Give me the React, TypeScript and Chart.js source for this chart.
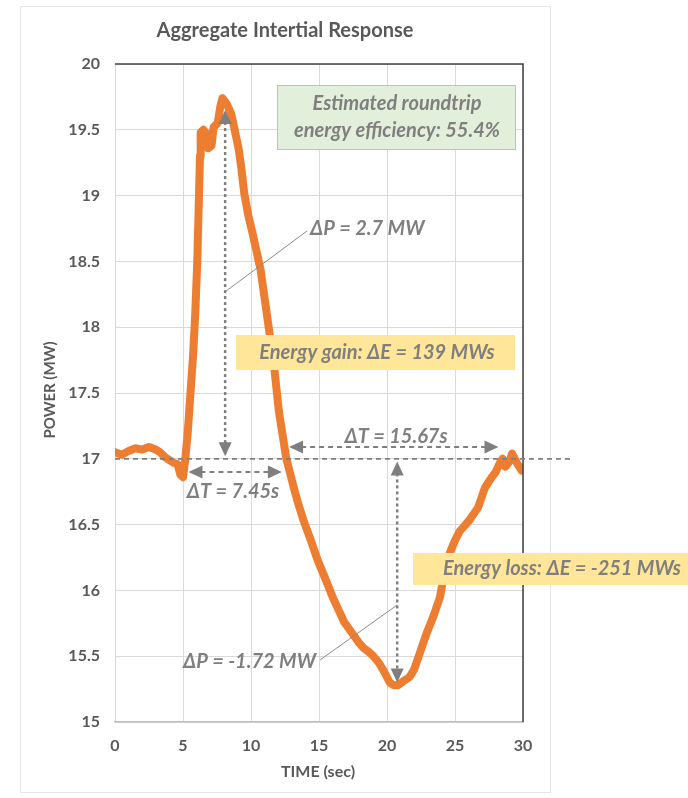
import React, { useEffect, useRef } from "react";
import { Chart, registerables } from "chart.js";

Chart.register(...registerables);

// ---- data ----
const timeSec: number[] = [
  0.0, 0.5, 1.0, 1.5, 2.0, 2.5, 3.0, 3.3, 3.7, 4.0, 4.3, 4.6, 4.8, 5.0, 5.15, 5.35, 5.55, 5.75, 5.9, 6.05,
  6.15, 6.25, 6.3, 6.5, 6.75, 6.85, 7.1, 7.25, 7.55, 7.75, 7.9, 8.2, 8.55, 8.8, 9.1, 9.3, 9.5, 9.8, 10.1, 10.4,
  10.7, 11.0, 11.3, 11.7, 12.05, 12.6, 13.2, 13.5, 13.9, 14.4, 14.9, 15.5, 16.0, 16.4, 16.85, 17.4, 17.96, 18.3, 18.7, 19.0,
  19.4, 19.8, 20.2, 20.5, 20.8, 21.2, 21.65, 22.0, 22.4, 22.9, 23.4, 23.9, 24.2, 24.6, 25.0, 25.35, 25.7, 26.1, 26.7, 27.2,
  27.7, 28.0, 28.3, 28.5, 28.7, 29.0, 29.2, 29.4, 29.6, 29.9,
];
const powerMW: number[] = [
  17.05, 17.03, 17.06, 17.08, 17.07, 17.09, 17.07, 17.05, 17.01, 16.99, 16.97, 16.96, 16.88, 16.86, 16.98, 17.2, 17.5, 17.8, 18.1, 18.5,
  18.9, 19.3, 19.48, 19.5, 19.47, 19.36, 19.38, 19.52, 19.55, 19.68, 19.74, 19.7, 19.62, 19.5, 19.35, 19.2, 19.02, 18.85, 18.72, 18.58,
  18.44, 18.22, 18.0, 17.7, 17.36, 17.0, 16.76, 16.65, 16.52, 16.38, 16.23, 16.08, 15.95, 15.86, 15.76, 15.68, 15.6, 15.56, 15.53, 15.5,
  15.45, 15.38, 15.3, 15.28, 15.28, 15.31, 15.34, 15.4, 15.52, 15.67, 15.8, 15.95, 16.13, 16.28, 16.38, 16.45, 16.49, 16.54, 16.63, 16.78,
  16.86, 16.9, 16.97, 17.0, 16.94, 16.98, 17.04, 17.0, 16.96, 16.91,
];
const xTicks: number[] = [0, 5, 10, 15, 20, 25, 30];
const yTicks: number[] = [15, 15.5, 16, 16.5, 17, 17.5, 18, 18.5, 19, 19.5, 20];

const chartTitle = "Aggregate Intertial Response";
const xTitle = "TIME (sec)";
const yTitle = "POWER (MW)";
const efficiencyLines = ["Estimated roundtrip", "energy efficiency: 55.4%"];
const gainLabel = "Energy gain: ΔE = 139 MWs";
const lossLabel = "Energy loss: ΔE = -251 MWs";
const dpUpLabel = "ΔP = 2.7 MW";
const dpDownLabel = "ΔP = -1.72 MW";
const dtShortLabel = "ΔT = 7.45s";
const dtLongLabel = "ΔT = 15.67s";

// annotation values (data units)
const baselineP = 17;
const peakT = 8.1;
const peakP = 19.65;
const troughT = 20.75;
const troughP = 15.3;
const dtShort = [5.4, 12.27];
const dtShortP = 16.9;
const dtLong = [12.8, 28.2];
const dtLongP = 17.09;

const GRAY = "#7f7f7f";
const TEXT = "#595959";
const FONT = "Lato, 'Open Sans', sans-serif";

function arrowHead(ctx: CanvasRenderingContext2D, x: number, y: number, dir: "up" | "down" | "left" | "right") {
  const L = 14, W = 6.5;
  ctx.beginPath();
  if (dir === "up") { ctx.moveTo(x, y); ctx.lineTo(x - W, y + L); ctx.lineTo(x + W, y + L); }
  if (dir === "down") { ctx.moveTo(x, y); ctx.lineTo(x - W, y - L); ctx.lineTo(x + W, y - L); }
  if (dir === "left") { ctx.moveTo(x, y); ctx.lineTo(x + L, y - W); ctx.lineTo(x + L, y + W); }
  if (dir === "right") { ctx.moveTo(x, y); ctx.lineTo(x - L, y - W); ctx.lineTo(x - L, y + W); }
  ctx.closePath();
  ctx.fillStyle = GRAY;
  ctx.fill();
}

const overlayPlugin = {
  id: "overlay",
  beforeDraw(chart: any) {
    const ctx = chart.ctx as CanvasRenderingContext2D;
    ctx.save();
    ctx.fillStyle = "#ffffff";
    ctx.fillRect(0, 0, chart.width, chart.height);
    ctx.strokeStyle = "#e6e6e6";
    ctx.lineWidth = 1;
    ctx.strokeRect(20.5, 6.5, 530, 786);
    ctx.restore();
  },
  afterDatasetsDraw(chart: any) {
    const ctx = chart.ctx as CanvasRenderingContext2D;
    const xs = chart.scales.x;
    const ys = chart.scales.y;
    const ca = chart.chartArea;
    const X = (v: number) => xs.getPixelForValue(v);
    const Y = (v: number) => ys.getPixelForValue(v);
    ctx.save();

    // plot frame top/right
    ctx.strokeStyle = "#404040";
    ctx.lineWidth = 1.5;
    ctx.beginPath();
    ctx.moveTo(ca.left, ca.top);
    ctx.lineTo(ca.right, ca.top);
    ctx.lineTo(ca.right, ca.bottom);
    ctx.stroke();

    // titles
    ctx.fillStyle = TEXT;
    ctx.textAlign = "center";
    ctx.textBaseline = "middle";
    ctx.font = `bold 20px ${FONT}`;
    ctx.fillText(chartTitle, 285, 31);
    ctx.font = `bold 16px ${FONT}`;
    ctx.fillText(xTitle, 318, 772);
    ctx.save();
    ctx.translate(50, 390);
    ctx.rotate(-Math.PI / 2);
    ctx.font = `bold 15px ${FONT}`;
    ctx.fillText(yTitle, 0, 0);
    ctx.restore();

    // baseline dashed line
    ctx.strokeStyle = GRAY;
    ctx.lineWidth = 1.8;
    ctx.setLineDash([5, 4]);
    ctx.beginPath();
    ctx.moveTo(ca.left, Y(baselineP));
    ctx.lineTo(573, Y(baselineP));
    ctx.stroke();

    // horizontal double arrows
    const hArrow = (t0: number, t1: number, p: number) => {
      const y = Y(p);
      ctx.setLineDash([5, 4]);
      ctx.lineWidth = 2;
      ctx.strokeStyle = GRAY;
      ctx.beginPath();
      ctx.moveTo(X(t0) + 12, y);
      ctx.lineTo(X(t1) - 12, y);
      ctx.stroke();
      ctx.setLineDash([]);
      arrowHead(ctx, X(t0), y, "left");
      arrowHead(ctx, X(t1), y, "right");
    };
    hArrow(dtShort[0], dtShort[1], dtShortP);
    hArrow(dtLong[0], dtLong[1], dtLongP);

    // vertical double arrows (dotted)
    const vArrow = (t: number, pTop: number, pBot: number) => {
      const x = X(t);
      ctx.setLineDash([3, 3]);
      ctx.lineWidth = 2.5;
      ctx.strokeStyle = GRAY;
      ctx.beginPath();
      ctx.moveTo(x, Y(pTop) + 12);
      ctx.lineTo(x, Y(pBot) - 12);
      ctx.stroke();
      ctx.setLineDash([]);
      arrowHead(ctx, x, Y(pTop), "up");
      arrowHead(ctx, x, Y(pBot), "down");
    };
    vArrow(peakT, peakP, baselineP + 0.02);
    vArrow(troughT, baselineP - 0.02, troughP);

    // leader lines
    ctx.setLineDash([]);
    ctx.lineWidth = 1;
    ctx.strokeStyle = "#8c8c8c";
    ctx.beginPath();
    ctx.moveTo(X(peakT) + 1, 291);
    ctx.lineTo(307, 231);
    ctx.moveTo(X(troughT), 605);
    ctx.lineTo(320, 660);
    ctx.stroke();

    // green box
    ctx.fillStyle = "#e2efda";
    ctx.fillRect(277, 85, 239, 65);
    ctx.strokeStyle = "#b7c9ab";
    ctx.lineWidth = 1;
    ctx.strokeRect(277.5, 85.5, 238, 64);
    ctx.fillStyle = GRAY;
    ctx.font = `italic bold 20px ${FONT}`;
    ctx.textAlign = "center";
    ctx.fillText(efficiencyLines[0], 397, 104);
    ctx.fillText(efficiencyLines[1], 397, 131);

    // yellow boxes
    ctx.fillStyle = "#ffe699";
    ctx.fillRect(236, 335, 279, 35);
    ctx.fillRect(413, 553, 275, 32);
    ctx.fillStyle = GRAY;
    ctx.font = `italic bold 20px ${FONT}`;
    ctx.fillText(gainLabel, 377, 353);
    ctx.fillText(lossLabel, 562, 569);

    // delta labels
    ctx.font = `italic bold 20px ${FONT}`;
    ctx.textAlign = "left";
    ctx.fillText(dpUpLabel, 310, 229);
    ctx.textAlign = "right";
    ctx.fillText(dpDownLabel, 316, 662);
    ctx.textAlign = "center";
    ctx.fillText(dtLongLabel, 396, 437);
    ctx.fillText(dtShortLabel, 233, 492);

    ctx.restore();
  },
};

export default function App() {
  const canvasRef = useRef<HTMLCanvasElement | null>(null);

  useEffect(() => {
    const canvas = canvasRef.current;
    if (!canvas) return;
    const points = timeSec.map((t, i) => ({ x: t, y: powerMW[i] }));
    const chart = new Chart(canvas, {
      type: "line",
      data: {
        datasets: [
          {
            data: points,
            borderColor: "#ed7d31",
            borderWidth: 8,
            pointRadius: 0,
            tension: 0,
            borderCapStyle: "round",
            borderJoinStyle: "round",
            fill: false,
          },
        ],
      },
      options: {
        responsive: false,
        animation: false,
        devicePixelRatio: 1,
        layout: { padding: { left: 0, top: 64, right: 165, bottom: 0 } },
        plugins: { legend: { display: false }, title: { display: false }, tooltip: { enabled: false } },
        scales: {
          x: {
            type: "linear",
            min: 0,
            max: 30,
            afterFit: (s: any) => { s.height = 76; },
            afterBuildTicks: (s: any) => { s.ticks = xTicks.map((v) => ({ value: v })); },
            grid: { color: "#d9d9d9", lineWidth: 1, drawTicks: false },
            border: { color: "#bfbfbf", width: 1.5 },
            ticks: { color: TEXT, font: { family: FONT, size: 16, weight: "bold" }, padding: 14, maxRotation: 0, callback: (v: any) => String(v) },
          },
          y: {
            type: "linear",
            min: 15,
            max: 20,
            afterFit: (s: any) => { s.width = 115; },
            afterBuildTicks: (s: any) => { s.ticks = yTicks.map((v) => ({ value: v })); },
            grid: { color: "#d9d9d9", lineWidth: 1, drawTicks: false },
            border: { display: false },
            ticks: { color: TEXT, font: { family: FONT, size: 16, weight: "bold" }, padding: 15, callback: (v: any) => String(v) },
          },
        },
      },
      plugins: [overlayPlugin],
    });
    return () => chart.destroy();
  }, []);

  return (
    <div style={{ position: "absolute", left: 0, top: 0, width: 688, height: 798 }}>
      <canvas ref={canvasRef} width={688} height={798} style={{ display: "block", width: 688, height: 798 }} />
    </div>
  );
}
